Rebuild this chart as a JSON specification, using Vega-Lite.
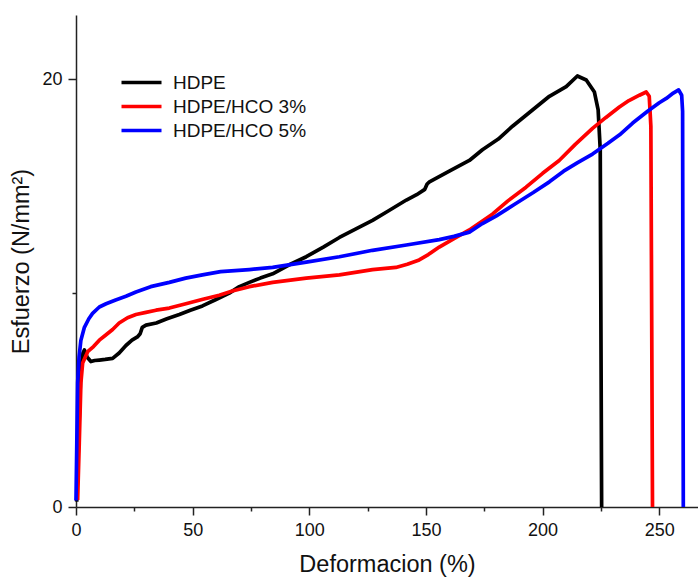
{
  "$schema": "https://vega.github.io/schema/vega-lite/v6.json",
  "width": 622,
  "height": 492,
  "autosize": "none",
  "padding": {"left": 76, "top": 15, "right": 0, "bottom": 70},
  "background": "white",
  "config": {
    "view": {"stroke": null},
    "font": "Liberation Sans",
    "axis": {
      "grid": false,
      "domainColor": "#222222",
      "domainWidth": 1.5,
      "tickColor": "#222222",
      "tickWidth": 1.5,
      "labelColor": "#111111",
      "titleColor": "#111111",
      "labelFont": "Liberation Sans",
      "titleFont": "Liberation Sans",
      "labelFontSize": 18,
      "titleFontSize": 23.5,
      "titleFontWeight": "normal"
    }
  },
  "data": {
    "values": [
      {"s": "HDPE", "x": 0.3, "y": 0.25},
      {"s": "HDPE", "x": 1.2, "y": 3.5},
      {"s": "HDPE", "x": 2.1, "y": 6.56},
      {"s": "HDPE", "x": 3.0, "y": 7.2},
      {"s": "HDPE", "x": 3.6, "y": 7.34},
      {"s": "HDPE", "x": 4.8, "y": 7.0},
      {"s": "HDPE", "x": 6.4, "y": 6.8},
      {"s": "HDPE", "x": 8.0, "y": 6.85},
      {"s": "HDPE", "x": 10.0, "y": 6.87},
      {"s": "HDPE", "x": 12.5, "y": 6.9},
      {"s": "HDPE", "x": 15.7, "y": 6.95},
      {"s": "HDPE", "x": 18.5, "y": 7.2},
      {"s": "HDPE", "x": 21.4, "y": 7.55},
      {"s": "HDPE", "x": 24.0, "y": 7.8},
      {"s": "HDPE", "x": 26.3, "y": 7.95},
      {"s": "HDPE", "x": 27.5, "y": 8.1},
      {"s": "HDPE", "x": 28.4, "y": 8.4},
      {"s": "HDPE", "x": 30.0, "y": 8.5},
      {"s": "HDPE", "x": 34.4, "y": 8.6},
      {"s": "HDPE", "x": 39.0, "y": 8.8},
      {"s": "HDPE", "x": 44.3, "y": 9.0},
      {"s": "HDPE", "x": 49.0, "y": 9.2},
      {"s": "HDPE", "x": 54.2, "y": 9.4},
      {"s": "HDPE", "x": 60.0, "y": 9.7},
      {"s": "HDPE", "x": 65.7, "y": 10.0},
      {"s": "HDPE", "x": 70.0, "y": 10.3},
      {"s": "HDPE", "x": 74.3, "y": 10.5},
      {"s": "HDPE", "x": 79.0, "y": 10.7},
      {"s": "HDPE", "x": 84.3, "y": 10.9},
      {"s": "HDPE", "x": 91.0, "y": 11.3},
      {"s": "HDPE", "x": 98.7, "y": 11.7},
      {"s": "HDPE", "x": 106.0, "y": 12.15},
      {"s": "HDPE", "x": 112.9, "y": 12.6},
      {"s": "HDPE", "x": 120.0, "y": 13.0},
      {"s": "HDPE", "x": 127.1, "y": 13.4},
      {"s": "HDPE", "x": 134.0, "y": 13.85},
      {"s": "HDPE", "x": 141.6, "y": 14.35},
      {"s": "HDPE", "x": 146.0, "y": 14.6},
      {"s": "HDPE", "x": 149.5, "y": 14.85},
      {"s": "HDPE", "x": 150.5, "y": 15.1},
      {"s": "HDPE", "x": 151.5, "y": 15.2},
      {"s": "HDPE", "x": 160.0, "y": 15.7},
      {"s": "HDPE", "x": 168.6, "y": 16.2},
      {"s": "HDPE", "x": 174.2, "y": 16.7},
      {"s": "HDPE", "x": 181.0, "y": 17.2},
      {"s": "HDPE", "x": 187.1, "y": 17.8},
      {"s": "HDPE", "x": 195.0, "y": 18.5},
      {"s": "HDPE", "x": 202.9, "y": 19.2},
      {"s": "HDPE", "x": 210.1, "y": 19.65},
      {"s": "HDPE", "x": 214.9, "y": 20.15},
      {"s": "HDPE", "x": 218.7, "y": 19.96},
      {"s": "HDPE", "x": 222.2, "y": 19.4},
      {"s": "HDPE", "x": 223.8, "y": 18.56},
      {"s": "HDPE", "x": 224.7, "y": 16.7},
      {"s": "HDPE", "x": 225.3, "y": 0.0},

      {"s": "HDPE/HCO 3%", "x": 0.7, "y": 0.33},
      {"s": "HDPE/HCO 3%", "x": 1.4, "y": 3.0},
      {"s": "HDPE/HCO 3%", "x": 2.1, "y": 5.8},
      {"s": "HDPE/HCO 3%", "x": 2.85, "y": 6.73},
      {"s": "HDPE/HCO 3%", "x": 5.0, "y": 7.26},
      {"s": "HDPE/HCO 3%", "x": 7.5, "y": 7.5},
      {"s": "HDPE/HCO 3%", "x": 10.0, "y": 7.8},
      {"s": "HDPE/HCO 3%", "x": 12.5, "y": 8.02},
      {"s": "HDPE/HCO 3%", "x": 15.7, "y": 8.3},
      {"s": "HDPE/HCO 3%", "x": 18.5, "y": 8.6},
      {"s": "HDPE/HCO 3%", "x": 22.1, "y": 8.85},
      {"s": "HDPE/HCO 3%", "x": 25.7, "y": 9.0},
      {"s": "HDPE/HCO 3%", "x": 30.0, "y": 9.1},
      {"s": "HDPE/HCO 3%", "x": 34.3, "y": 9.2},
      {"s": "HDPE/HCO 3%", "x": 40.0, "y": 9.3},
      {"s": "HDPE/HCO 3%", "x": 47.1, "y": 9.5},
      {"s": "HDPE/HCO 3%", "x": 54.0, "y": 9.7},
      {"s": "HDPE/HCO 3%", "x": 61.4, "y": 9.9},
      {"s": "HDPE/HCO 3%", "x": 67.0, "y": 10.1},
      {"s": "HDPE/HCO 3%", "x": 74.3, "y": 10.3},
      {"s": "HDPE/HCO 3%", "x": 84.3, "y": 10.5},
      {"s": "HDPE/HCO 3%", "x": 98.7, "y": 10.7},
      {"s": "HDPE/HCO 3%", "x": 112.9, "y": 10.85},
      {"s": "HDPE/HCO 3%", "x": 127.1, "y": 11.1},
      {"s": "HDPE/HCO 3%", "x": 137.1, "y": 11.2},
      {"s": "HDPE/HCO 3%", "x": 142.0, "y": 11.35},
      {"s": "HDPE/HCO 3%", "x": 147.1, "y": 11.55},
      {"s": "HDPE/HCO 3%", "x": 151.0, "y": 11.8},
      {"s": "HDPE/HCO 3%", "x": 155.7, "y": 12.15},
      {"s": "HDPE/HCO 3%", "x": 162.0, "y": 12.55},
      {"s": "HDPE/HCO 3%", "x": 168.6, "y": 12.95},
      {"s": "HDPE/HCO 3%", "x": 178.6, "y": 13.7},
      {"s": "HDPE/HCO 3%", "x": 185.0, "y": 14.3},
      {"s": "HDPE/HCO 3%", "x": 192.9, "y": 14.95},
      {"s": "HDPE/HCO 3%", "x": 200.0, "y": 15.6},
      {"s": "HDPE/HCO 3%", "x": 207.1, "y": 16.2},
      {"s": "HDPE/HCO 3%", "x": 214.0, "y": 16.95},
      {"s": "HDPE/HCO 3%", "x": 221.4, "y": 17.7},
      {"s": "HDPE/HCO 3%", "x": 227.0, "y": 18.2},
      {"s": "HDPE/HCO 3%", "x": 232.9, "y": 18.7},
      {"s": "HDPE/HCO 3%", "x": 237.0, "y": 19.0},
      {"s": "HDPE/HCO 3%", "x": 241.5, "y": 19.25},
      {"s": "HDPE/HCO 3%", "x": 244.4, "y": 19.4},
      {"s": "HDPE/HCO 3%", "x": 245.7, "y": 19.2},
      {"s": "HDPE/HCO 3%", "x": 246.4, "y": 17.8},
      {"s": "HDPE/HCO 3%", "x": 247.1, "y": 0.0},

      {"s": "HDPE/HCO 5%", "x": 0.0, "y": 0.3},
      {"s": "HDPE/HCO 5%", "x": 0.35, "y": 3.0},
      {"s": "HDPE/HCO 5%", "x": 0.7, "y": 5.8},
      {"s": "HDPE/HCO 5%", "x": 1.3, "y": 7.0},
      {"s": "HDPE/HCO 5%", "x": 2.1, "y": 7.8},
      {"s": "HDPE/HCO 5%", "x": 3.6, "y": 8.4},
      {"s": "HDPE/HCO 5%", "x": 5.5, "y": 8.8},
      {"s": "HDPE/HCO 5%", "x": 7.1, "y": 9.05},
      {"s": "HDPE/HCO 5%", "x": 10.0, "y": 9.35},
      {"s": "HDPE/HCO 5%", "x": 12.9, "y": 9.5},
      {"s": "HDPE/HCO 5%", "x": 17.0, "y": 9.68},
      {"s": "HDPE/HCO 5%", "x": 21.4, "y": 9.85},
      {"s": "HDPE/HCO 5%", "x": 25.7, "y": 10.05},
      {"s": "HDPE/HCO 5%", "x": 32.0, "y": 10.3},
      {"s": "HDPE/HCO 5%", "x": 40.0, "y": 10.5},
      {"s": "HDPE/HCO 5%", "x": 47.0, "y": 10.7},
      {"s": "HDPE/HCO 5%", "x": 54.2, "y": 10.85},
      {"s": "HDPE/HCO 5%", "x": 62.0, "y": 11.0},
      {"s": "HDPE/HCO 5%", "x": 74.3, "y": 11.1},
      {"s": "HDPE/HCO 5%", "x": 84.3, "y": 11.2},
      {"s": "HDPE/HCO 5%", "x": 98.7, "y": 11.45},
      {"s": "HDPE/HCO 5%", "x": 112.9, "y": 11.7},
      {"s": "HDPE/HCO 5%", "x": 127.1, "y": 12.0},
      {"s": "HDPE/HCO 5%", "x": 141.6, "y": 12.25},
      {"s": "HDPE/HCO 5%", "x": 155.7, "y": 12.5},
      {"s": "HDPE/HCO 5%", "x": 162.0, "y": 12.65},
      {"s": "HDPE/HCO 5%", "x": 168.6, "y": 12.85},
      {"s": "HDPE/HCO 5%", "x": 174.2, "y": 13.25},
      {"s": "HDPE/HCO 5%", "x": 180.0, "y": 13.6},
      {"s": "HDPE/HCO 5%", "x": 188.7, "y": 14.2},
      {"s": "HDPE/HCO 5%", "x": 196.0, "y": 14.7},
      {"s": "HDPE/HCO 5%", "x": 202.9, "y": 15.2},
      {"s": "HDPE/HCO 5%", "x": 209.0, "y": 15.7},
      {"s": "HDPE/HCO 5%", "x": 215.0, "y": 16.1},
      {"s": "HDPE/HCO 5%", "x": 221.4, "y": 16.5},
      {"s": "HDPE/HCO 5%", "x": 228.0, "y": 17.0},
      {"s": "HDPE/HCO 5%", "x": 233.0, "y": 17.4},
      {"s": "HDPE/HCO 5%", "x": 238.6, "y": 17.95},
      {"s": "HDPE/HCO 5%", "x": 245.0, "y": 18.5},
      {"s": "HDPE/HCO 5%", "x": 250.0, "y": 18.9},
      {"s": "HDPE/HCO 5%", "x": 253.0, "y": 19.1},
      {"s": "HDPE/HCO 5%", "x": 256.0, "y": 19.35},
      {"s": "HDPE/HCO 5%", "x": 258.3, "y": 19.5},
      {"s": "HDPE/HCO 5%", "x": 259.6, "y": 19.25},
      {"s": "HDPE/HCO 5%", "x": 260.0, "y": 18.5},
      {"s": "HDPE/HCO 5%", "x": 260.3, "y": 0.0}
    ]
  },
  "mark": {"type": "line", "strokeWidth": 3.7, "strokeJoin": "round", "strokeCap": "butt"},
  "encoding": {
    "x": {
      "field": "x",
      "type": "quantitative",
      "scale": {"domain": [0, 266.6], "nice": false, "zero": false},
      "axis": {
        "title": "Deformacion (%)",
        "values": [0, 25, 50, 75, 100, 125, 150, 175, 200, 225, 250],
        "labelExpr": "datum.value % 50 == 0 ? datum.label : ''",
        "tickSize": {"condition": {"test": "datum.value % 50 != 0", "value": 4}, "value": 8},
        "labelPadding": 6,
        "titlePadding": 13,
        "labelFlush": false
      }
    },
    "y": {
      "field": "y",
      "type": "quantitative",
      "scale": {"domain": [0, 23], "nice": false, "zero": false},
      "axis": {
        "title": "Esfuerzo (N/mm²)",
        "values": [0, 10, 20],
        "labelExpr": "datum.value == 10 ? '' : datum.label",
        "tickSize": {"condition": {"test": "datum.value == 10", "value": 4}, "value": 8},
        "labelPadding": 6,
        "titlePadding": 8,
        "labelFlush": false
      }
    },
    "color": {
      "field": "s",
      "type": "nominal",
      "scale": {"domain": ["HDPE", "HDPE/HCO 3%", "HDPE/HCO 5%"], "range": ["#000000", "#ff0000", "#0000ff"]},
      "legend": {
        "title": null,
        "orient": "none",
        "legendX": 56,
        "legendY": 58,
        "symbolType": "M-4,0L4,0",
        "symbolSize": 100,
        "symbolStrokeWidth": 3.7,
        "labelFontSize": 19,
        "labelFont": "Liberation Sans",
        "labelColor": "#111111",
        "labelOffset": 22,
        "rowPadding": 4,
        "padding": 0
      }
    }
  }
}
